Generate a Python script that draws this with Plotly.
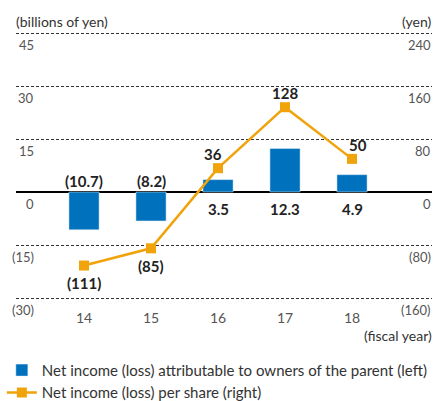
import plotly.graph_objects as go

years = [14, 15, 16, 17, 18]
net_income = [-10.7, -8.2, 3.5, 12.3, 4.9]          # billions of yen (left)
eps = [-111, -85, 36, 128, 50]                       # yen per share (right)
left_ticks = [45, 30, 15, 0, -15, -30]
right_ticks = [240, 160, 80, 0, -80, -160]

BLUE = "#0071BC"
ORANGE = "#F0A30A"
FONT = "Lato"
GRAY = "#555555"

def fmt(v, dec):
    s = f"{abs(v):.{dec}f}"
    return f"({s})" if v < 0 else s

fig = go.Figure()
fig.add_trace(go.Bar(
    x=years, y=net_income, width=0.45, marker_color=BLUE,
    name="Net income (loss) attributable to owners of the parent (left)",
    yaxis="y", hoverinfo="skip"))
fig.add_trace(go.Scatter(
    x=years, y=eps, mode="lines+markers", yaxis="y2",
    line=dict(color=ORANGE, width=2.5),
    marker=dict(symbol="square", size=10, color=ORANGE),
    name="Net income (loss) per share (right)", hoverinfo="skip"))

ann = []
# bar value labels
for x, v in zip(years, net_income):
    ann.append(dict(x=x, y=0, xref="x", yref="y", text=f"<b>{fmt(v, 1)}</b>",
                    showarrow=False, yshift=(11 if v < 0 else -17), yanchor="middle",
                    font=dict(family=FONT, size=15, color="#222")))
# line value labels (offsets are styling)
line_offsets = {14: (0, -17), 15: (0, -18), 16: (-5, 14), 17: (0, 14), 18: (6, 14)}
for x, v in zip(years, eps):
    dx, dy = line_offsets[x]
    ann.append(dict(x=x, y=v, xref="x", yref="y2", text=f"<b>{fmt(v, 0)}</b>",
                    showarrow=False, xshift=dx, yshift=dy, yanchor="middle",
                    font=dict(family=FONT, size=15, color="#222")))
# axis tick labels (drawn below gridlines)
for t in left_ticks:
    ann.append(dict(x=0, y=t, xref="paper", yref="y", text=fmt(t, 0),
                    showarrow=False, xanchor="right", yanchor="middle", xshift=20, yshift=-12,
                    font=dict(family=FONT, size=13, color=GRAY)))
for t in right_ticks:
    ann.append(dict(x=1, y=t, xref="paper", yref="y2", text=fmt(t, 0),
                    showarrow=False, xanchor="right", yanchor="middle", xshift=1, yshift=-12,
                    font=dict(family=FONT, size=13, color=GRAY)))
ann.append(dict(x=0, y=1.029, xref="paper", yref="paper", text="(billions of yen)",
                showarrow=False, xanchor="left", yanchor="middle", xshift=-2,
                font=dict(family=FONT, size=14, color="#333")))
ann.append(dict(x=1, y=1.029, xref="paper", yref="paper", text="(yen)",
                showarrow=False, xanchor="right", yanchor="middle", xshift=2,
                font=dict(family=FONT, size=14, color="#333")))
ann.append(dict(x=1, y=-0.1245, xref="paper", yref="paper", text="(fiscal year)",
                showarrow=False, xanchor="right", yanchor="middle", xshift=2,
                font=dict(family=FONT, size=14, color="#333")))

pad_l = 1.132                 # axis padding so edge gridlines are drawn
pad_r = pad_l * 80 / 15

fig.update_layout(
    width=435, height=401,
    margin=dict(l=16, r=3, t=29, b=99, autoexpand=False),
    paper_bgcolor="white", plot_bgcolor="white",
    font=dict(family=FONT, color="#333"),
    showlegend=True,
    legend=dict(orientation="v", x=-0.034, xanchor="left", y=-0.19, yanchor="top",
                font=dict(family=FONT, size=15, color="#333"),
                bgcolor="rgba(0,0,0,0)", tracegroupgap=0, itemwidth=30),
    xaxis=dict(range=[12.985, 19.194], tickvals=years, ticktext=[str(y) for y in years],
               showgrid=False, zeroline=False, showline=False, ticks="",
               ticklabelstandoff=6,
               tickfont=dict(family=FONT, size=14, color=GRAY)),
    yaxis=dict(range=[-30 - pad_l, 45 + pad_l], tickvals=left_ticks, showticklabels=False,
               showgrid=True, gridcolor="#333", gridwidth=1, griddash="3px,2px",
               zeroline=True, zerolinecolor="#000", zerolinewidth=1.5,
               showline=False, ticks=""),
    yaxis2=dict(range=[-160 - pad_r, 240 + pad_r], overlaying="y", side="right",
                showgrid=False, zeroline=False, showticklabels=False, ticks=""),
    annotations=ann,
)

fig.write_html("out.html", post_script="document.body.style.margin='0';",
               config={"displayModeBar": False})
